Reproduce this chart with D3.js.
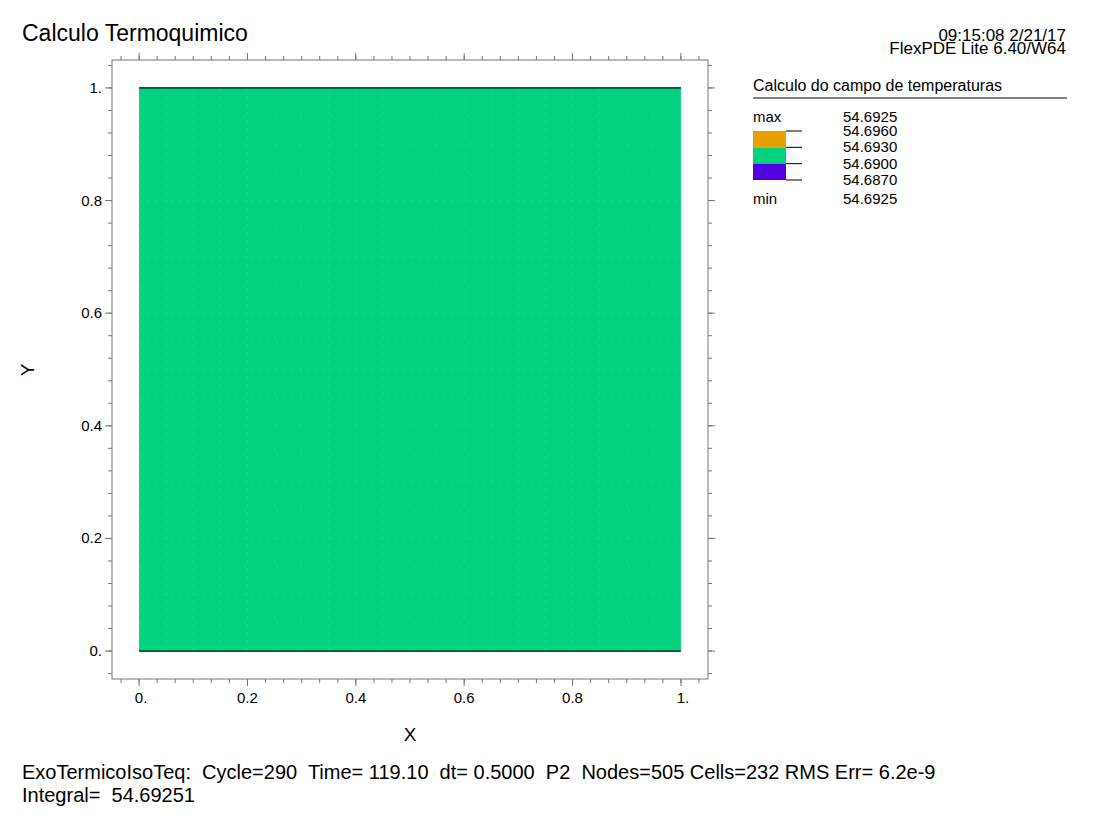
<!DOCTYPE html>
<html lang="en">
<head>
<meta charset="UTF-8">
<title>Calculo Termoquimico</title>
<script src="https://d3js.org/d3.v7.min.js"></script>
<style>
  body { margin: 0; background: #fff; font-family: 'Liberation Sans', Arial, sans-serif; }
  text { fill: #000; }
</style>
</head>
<body>
<div id="chart"></div>
<script>
const xTicks = [0, 0.2, 0.4, 0.6, 0.8, 1];
const xTickLabels = ["0.", "0.2", "0.4", "0.6", "0.8", "1."];
const yTicks = [0, 0.2, 0.4, 0.6, 0.8, 1];
const yTickLabels = ["0.", "0.2", "0.4", "0.6", "0.8", "1."];
const levelColors = ["#e6a000", "#00d27f", "#5500e0"];
const levelValues = ["54.6960", "54.6930", "54.6900", "54.6870"];
const maxValue = "54.6925", minValue = "54.6925";
const fieldColor = "#00d27f";

const svg = d3.select("#chart").append("svg").attr("width", 1100).attr("height", 825);

const x = d3.scaleLinear().domain([-0.05, 1.05]).range([112, 708]);
const y = d3.scaleLinear().domain([-0.0496, 1.0496]).range([679, 60]);

// plot frame
svg.append("rect").attr("x", 112).attr("y", 60).attr("width", 596).attr("height", 619)
  .attr("fill", "none").attr("stroke", "#777");

// field
svg.append("rect").attr("x", x(0)).attr("y", y(1))
  .attr("width", x(1) - x(0)).attr("height", y(0) - y(1)).attr("fill", fieldColor);

// faint mesh hint
const mesh = svg.append("g").attr("stroke", "#3ee09c").attr("stroke-width", 0.6).attr("opacity", 0.6);
d3.range(0, 1.0001, 0.05).forEach(v => {
  mesh.append("line").attr("x1", x(v)).attr("x2", x(v)).attr("y1", y(0)).attr("y2", y(1)).attr("stroke-dasharray", "3,5");
  mesh.append("line").attr("y1", y(v)).attr("y2", y(v)).attr("x1", x(0)).attr("x2", x(1)).attr("stroke-dasharray", "3,5");
});
svg.append("line").attr("x1", x(0)).attr("x2", x(1)).attr("y1", y(1)).attr("y2", y(1)).attr("stroke", "#000").attr("stroke-width", 1.2);
svg.append("line").attr("x1", x(0)).attr("x2", x(1)).attr("y1", y(0)).attr("y2", y(0)).attr("stroke", "#000").attr("stroke-width", 1.2);

// axes ticks
const minorX = d3.range(-0.0333 * 1, 1.05, 0.2 / 6).filter(v => v > -0.05 && v < 1.05);
const minorY = d3.range(-0.04, 1.05, 0.04).filter(v => v > -0.05 && v < 1.05);
const tk = svg.append("g").attr("stroke", "#777");
minorX.forEach(v => {
  tk.append("line").attr("x1", x(v)).attr("x2", x(v)).attr("y1", 679).attr("y2", 683);
  tk.append("line").attr("x1", x(v)).attr("x2", x(v)).attr("y1", 60).attr("y2", 56);
});
xTicks.forEach(v => {
  tk.append("line").attr("x1", x(v)).attr("x2", x(v)).attr("y1", 679).attr("y2", 686);
  tk.append("line").attr("x1", x(v)).attr("x2", x(v)).attr("y1", 60).attr("y2", 53);
});
minorY.forEach(v => {
  tk.append("line").attr("y1", y(v)).attr("y2", y(v)).attr("x1", 112).attr("x2", 108);
  tk.append("line").attr("y1", y(v)).attr("y2", y(v)).attr("x1", 708).attr("x2", 712);
});
yTicks.forEach(v => {
  tk.append("line").attr("y1", y(v)).attr("y2", y(v)).attr("x1", 112).attr("x2", 105);
  tk.append("line").attr("y1", y(v)).attr("y2", y(v)).attr("x1", 708).attr("x2", 715);
});
xTicks.forEach((v, i) => svg.append("text").attr("x", x(v) + (i == 0 || i == 5 ? 2 : 0)).attr("y", 703)
  .attr("text-anchor", "middle").attr("font-size", 15).text(xTickLabels[i]));
yTicks.forEach((v, i) => svg.append("text").attr("x", 102).attr("y", y(v) + 5)
  .attr("text-anchor", "end").attr("font-size", 15).text(yTickLabels[i]));

svg.append("text").attr("x", 410).attr("y", 741).attr("text-anchor", "middle").attr("font-size", 19).text("X");
svg.append("text").attr("x", 34).attr("y", 370).attr("text-anchor", "middle").attr("font-size", 19)
  .attr("transform", "rotate(-90,34,370)").text("Y");

// header
svg.append("text").attr("x", 22).attr("y", 41).attr("font-size", 23).text("Calculo Termoquimico");
svg.append("text").attr("x", 1066).attr("y", 41).attr("text-anchor", "end").attr("font-size", 17).text("09:15:08 2/21/17");
svg.append("text").attr("x", 1066).attr("y", 54).attr("text-anchor", "end").attr("font-size", 17).text("FlexPDE Lite 6.40/W64");

// legend
svg.append("text").attr("x", 753).attr("y", 91).attr("font-size", 16).text("Calculo do campo de temperaturas");
svg.append("line").attr("x1", 753).attr("x2", 1067).attr("y1", 98).attr("y2", 98).attr("stroke", "#000");
svg.append("text").attr("x", 753).attr("y", 122).attr("font-size", 15).text("max");
svg.append("text").attr("x", 843).attr("y", 122).attr("font-size", 15).text(maxValue);
const ly = d3.scaleLinear().domain([0, 3]).range([131, 180]);
levelColors.forEach((c, i) => svg.append("rect").attr("x", 753).attr("y", ly(i))
  .attr("width", 33).attr("height", ly(i + 1) - ly(i)).attr("fill", c));
levelValues.forEach((v, i) => {
  svg.append("line").attr("x1", 786).attr("x2", 802).attr("y1", ly(i)).attr("y2", ly(i)).attr("stroke", "#000");
  svg.append("text").attr("x", 843).attr("y", ly(i) + 5).attr("font-size", 15).text(v);
});
svg.append("text").attr("x", 753).attr("y", 204).attr("font-size", 15).text("min");
svg.append("text").attr("x", 843).attr("y", 204).attr("font-size", 15).text(minValue);

// footer
svg.append("text").attr("x", 22).attr("y", 779).attr("font-size", 20)
  .attr("xml:space", "preserve").style("white-space", "pre")
  .text("ExoTermicoIsoTeq:  Cycle=290  Time= 119.10  dt= 0.5000  P2  Nodes=505 Cells=232 RMS Err= 6.2e-9");
svg.append("text").attr("x", 22).attr("y", 802).attr("font-size", 20)
  .attr("xml:space", "preserve").style("white-space", "pre").text("Integral=  54.69251");
</script>
</body>
</html>
